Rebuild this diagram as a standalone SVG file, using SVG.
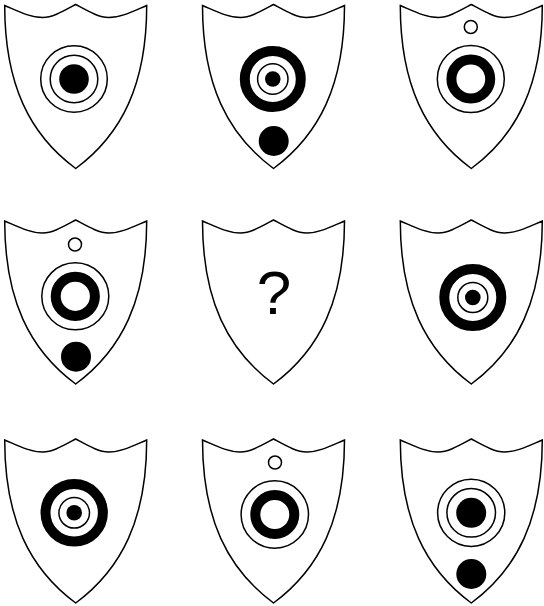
<svg xmlns="http://www.w3.org/2000/svg" xmlns:xlink="http://www.w3.org/1999/xlink" width="544" height="606" viewBox="0 0 544 606">
<style>
.sh{fill:#fff;stroke:#000;stroke-width:1.5;stroke-linejoin:miter}
.thin{fill:none;stroke:#000;stroke-width:1.5}
.thick{fill:none;stroke:#000;stroke-width:10}
.dot{fill:#000;stroke:none}
.q{font-family:"Liberation Sans",Arial,sans-serif;font-size:62px;fill:#000;text-anchor:middle}
</style>
<defs>
<path id="shield" d="M0,1 C12,6 25,13 38,13 C48,13 58,7 71,0 C84,7 94,13 104,13 C117,13 130,6 142,1 C142,80 117,130 71,164 C25,130 0,80 0,1 Z"/>
</defs>
<rect width="544" height="606" fill="#fff"/>
<g id="connectors"/>
<g id="s1">
<use xlink:href="#shield" class="sh" x="4.7" y="4.5"/>
<circle class="thin" cx="74" cy="79" r="33.3"/>
<circle class="thin" cx="74" cy="79" r="23.8"/>
<circle class="dot" cx="74" cy="79" r="14.8"/>
</g>
<g id="s2">
<use xlink:href="#shield" class="sh" x="202.5" y="4.5"/>
<circle class="thick" cx="272.8" cy="79" r="28"/>
<circle class="thin" cx="272.8" cy="79" r="15.2"/>
<circle class="dot" cx="272.8" cy="79" r="7.8"/>
<circle class="dot" cx="273.7" cy="141" r="15"/>
</g>
<g id="s3">
<use xlink:href="#shield" class="sh" x="400.3" y="4.5"/>
<circle class="thin" cx="470.8" cy="27" r="6.5"/>
<circle class="thin" cx="470.8" cy="79" r="33.5"/>
<circle class="thick" cx="470.8" cy="79" r="19.4"/>
</g>
<g id="s4">
<use xlink:href="#shield" class="sh" x="4.7" y="220"/>
<circle class="thin" cx="75" cy="244.5" r="6.5"/>
<circle class="thin" cx="75.3" cy="296.3" r="33.5"/>
<circle class="thick" cx="75.3" cy="296.3" r="19.6"/>
<circle class="dot" cx="76" cy="356.7" r="15"/>
</g>
<g id="s5">
<use xlink:href="#shield" class="sh" x="202.5" y="220"/>
<text class="q" x="274" y="314">?</text>
</g>
<g id="s6">
<use xlink:href="#shield" class="sh" x="400.3" y="220"/>
<circle class="thick" cx="472.8" cy="297.5" r="28.5"/>
<circle class="thin" cx="472.8" cy="297.5" r="15"/>
<circle class="dot" cx="472.8" cy="297.5" r="7.8"/>
</g>
<g id="s7">
<use xlink:href="#shield" class="sh" x="4.7" y="439"/>
<circle class="thick" cx="74.2" cy="512.8" r="28.7"/>
<circle class="thin" cx="74.2" cy="512.8" r="15.3"/>
<circle class="dot" cx="74.2" cy="512.8" r="7.8"/>
</g>
<g id="s8">
<use xlink:href="#shield" class="sh" x="202.5" y="439"/>
<circle class="thin" cx="275" cy="462.5" r="6.5"/>
<circle class="thin" cx="274.8" cy="514.5" r="33.7"/>
<circle class="thick" cx="274.8" cy="514.5" r="19.5"/>
</g>
<g id="s9">
<use xlink:href="#shield" class="sh" x="400.3" y="439"/>
<circle class="thin" cx="471.2" cy="512.8" r="33.6"/>
<circle class="thin" cx="471.2" cy="512.8" r="24.3"/>
<circle class="dot" cx="471.2" cy="512.8" r="15"/>
<circle class="dot" cx="471.3" cy="574" r="15"/>
</g>
</svg>
